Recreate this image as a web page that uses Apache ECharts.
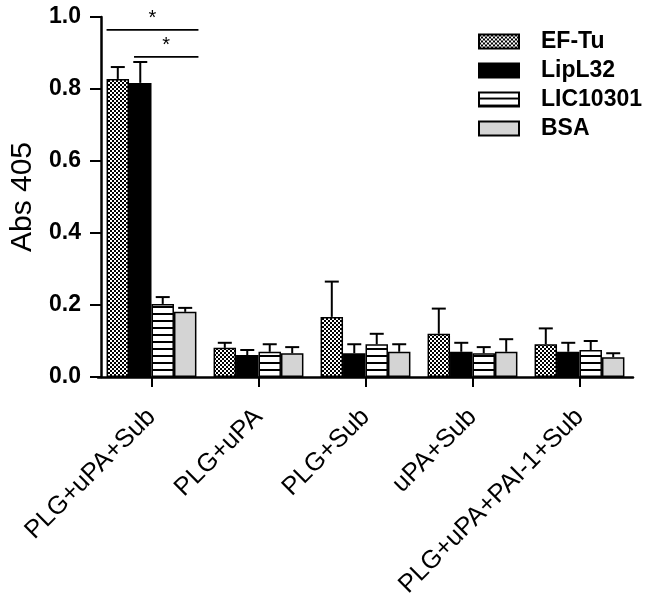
<!DOCTYPE html>
<html><head><meta charset="utf-8">
<script src="https://cdn.jsdelivr.net/npm/echarts@6/dist/echarts.min.js"></script>
<style>html,body{margin:0;padding:0;background:#fff}#c{width:653px;height:601px}</style>
</head><body><div id="c"></div>
<script>
const categories = ['PLG+uPA+Sub', 'PLG+uPA', 'PLG+Sub', 'uPA+Sub', 'PLG+uPA+PAI-1+Sub'];
const seriesNames = ['EF-Tu', 'LipL32', 'LIC10301', 'BSA'];
const efTu = [0.828, 0.081, 0.167, 0.120, 0.091];
const efTuErr = [0.033, 0.014, 0.098, 0.070, 0.044];
const lipL32 = [0.817, 0.061, 0.066, 0.070, 0.070];
const lipL32Err = [0.058, 0.014, 0.025, 0.025, 0.025];
const lic10301 = [0.203, 0.070, 0.091, 0.066, 0.075];
const lic10301Err = [0.019, 0.021, 0.029, 0.017, 0.025];
const bsa = [0.181, 0.066, 0.070, 0.070, 0.055];
const bsaErr = [0.011, 0.017, 0.021, 0.035, 0.011];
const yTicks = [0, 0.2, 0.4, 0.6, 0.8, 1.0];
// significance brackets: [category, first bar, last bar, y level, label]
const sigCat = [0, 0];
const sigFrom = [0, 1];
const sigTo = [3, 3];
const sigLevel = [0.964, 0.889];
const sigLabel = ['*', '*'];

function makePattern(kind) {
  const cv = document.createElement('canvas');
  const ctx = cv.getContext('2d');
  if (kind === 'checker') {
    cv.width = 4; cv.height = 4;
    ctx.fillStyle = '#fff'; ctx.fillRect(0, 0, 4, 4);
    ctx.fillStyle = '#000';
    ctx.fillRect(0, 0, 2, 2); ctx.fillRect(2, 2, 2, 2);
  } else if (kind === 'hstripe') {
    cv.width = 4; cv.height = 7;
    ctx.fillStyle = '#fff'; ctx.fillRect(0, 0, 4, 7);
    ctx.fillStyle = '#000'; ctx.fillRect(0, 5, 4, 2);
  }
  return { image: cv, repeat: 'repeat' };
}
const fills = [makePattern('checker'), '#000000', makePattern('hstripe'), '#d4d4d4'];
const values = [efTu, lipL32, lic10301, bsa];
const errs = [efTuErr, lipL32Err, lic10301Err, bsaErr];
const nSeries = 4;
const catGap = 0.16;

function barGeom(api, cat, idx) {
  const band = api.size([1, 0])[0];
  const bw = band * (1 - catGap) / nSeries;
  const cx = api.coord([cat, 0])[0];
  const left = cx - bw * nSeries / 2 + bw * idx;
  return { left: left, right: left + bw, center: left + bw / 2, bw: bw };
}

const series = [];
for (let i = 0; i < nSeries; i++) {
  series.push({
    name: seriesNames[i], type: 'bar', data: values[i],
    barGap: '0%', barCategoryGap: (catGap * 100) + '%',
    itemStyle: { color: fills[i], borderColor: '#000', borderWidth: 1.5 },
    emphasis: { disabled: true }, z: 2
  });
}
for (let i = 0; i < nSeries; i++) {
  const idx = i;
  series.push({
    type: 'custom', name: seriesNames[i] + ' err', z: 3, silent: true,
    data: values[i].map((v, k) => [k, v, errs[i][k]]),
    renderItem: function (params, api) {
      const cat = api.value(0), v = api.value(1), e = api.value(2);
      const g = barGeom(api, cat, idx);
      const y0 = api.coord([cat, v])[1];
      const y1 = api.coord([cat, v + e])[1];
      const cap = 7;
      return { type: 'group', children: [
        { type: 'line', shape: { x1: g.center, y1: y0, x2: g.center, y2: y1 }, style: { stroke: '#000', lineWidth: 2 } },
        { type: 'line', shape: { x1: g.center - cap, y1: y1, x2: g.center + cap, y2: y1 }, style: { stroke: '#000', lineWidth: 2 } }
      ]};
    }
  });
}
series.push({
  type: 'custom', name: 'sig', z: 4, silent: true,
  data: sigCat.map((c, k) => [c, sigFrom[k], sigTo[k], sigLevel[k]]),
  renderItem: function (params, api) {
    const cat = api.value(0), a = api.value(1), b = api.value(2), lv = api.value(3);
    const ga = barGeom(api, cat, a), gb = barGeom(api, cat, b);
    const y = api.coord([cat, lv])[1];
    const x1 = ga.left + (a === 0 ? 0 : 5), x2 = gb.right + 2;
    return { type: 'group', children: [
      { type: 'line', shape: { x1: x1, y1: y, x2: x2, y2: y }, style: { stroke: '#000', lineWidth: 1.8 } },
      { type: 'text', x: (x1 + x2) / 2, y: y - 1, style: { text: sigLabel[params.dataIndex], fontSize: 20, fontFamily: 'Liberation Sans', fill: '#000', align: 'center', verticalAlign: 'bottom' } }
    ]};
  }
});

const chart = echarts.init(document.getElementById('c'), null, { renderer: 'canvas' });
chart.setOption({
  animation: false,
  backgroundColor: '#fff',
  grid: { left: 94, right: 20, top: 17, bottom: 224, containLabel: false },
  legend: {
    data: seriesNames, orient: 'vertical', left: 473, top: 25,
    icon: 'rect', itemWidth: 40, itemHeight: 14, itemGap: 6,
    textStyle: { fontSize: 23, fontWeight: 'bold', fontFamily: 'Liberation Sans', color: '#000', padding: [0, 0, 0, 17] },
    selectedMode: false
  },
  xAxis: {
    type: 'category', data: categories,
    axisLine: { lineStyle: { color: '#000', width: 2.5 } },
    axisTick: { show: true, alignWithLabel: true, length: 10, lineStyle: { color: '#000', width: 2 } },
    axisLabel: { rotate: 45, interval: 0, margin: 36, fontSize: 25.5, fontFamily: 'Liberation Sans', color: '#000' }
  },
  yAxis: {
    type: 'value', min: yTicks[0], max: yTicks[yTicks.length - 1], interval: 0.2, offset: -3,
    name: 'Abs 405', nameLocation: 'middle', nameGap: 63, nameRotate: 90,
    nameTextStyle: { fontSize: 30, fontFamily: 'Liberation Sans', color: '#000' },
    axisLine: { show: true, lineStyle: { color: '#000', width: 2.5 } },
    axisTick: { show: true, length: 11, lineStyle: { color: '#000', width: 2 } },
    axisLabel: { formatter: v => v.toFixed(1), fontSize: 23, fontWeight: 'bold', fontFamily: 'Liberation Sans', color: '#000', margin: 20 },
    splitLine: { show: false }
  },
  series: series
});
</script></body></html>
